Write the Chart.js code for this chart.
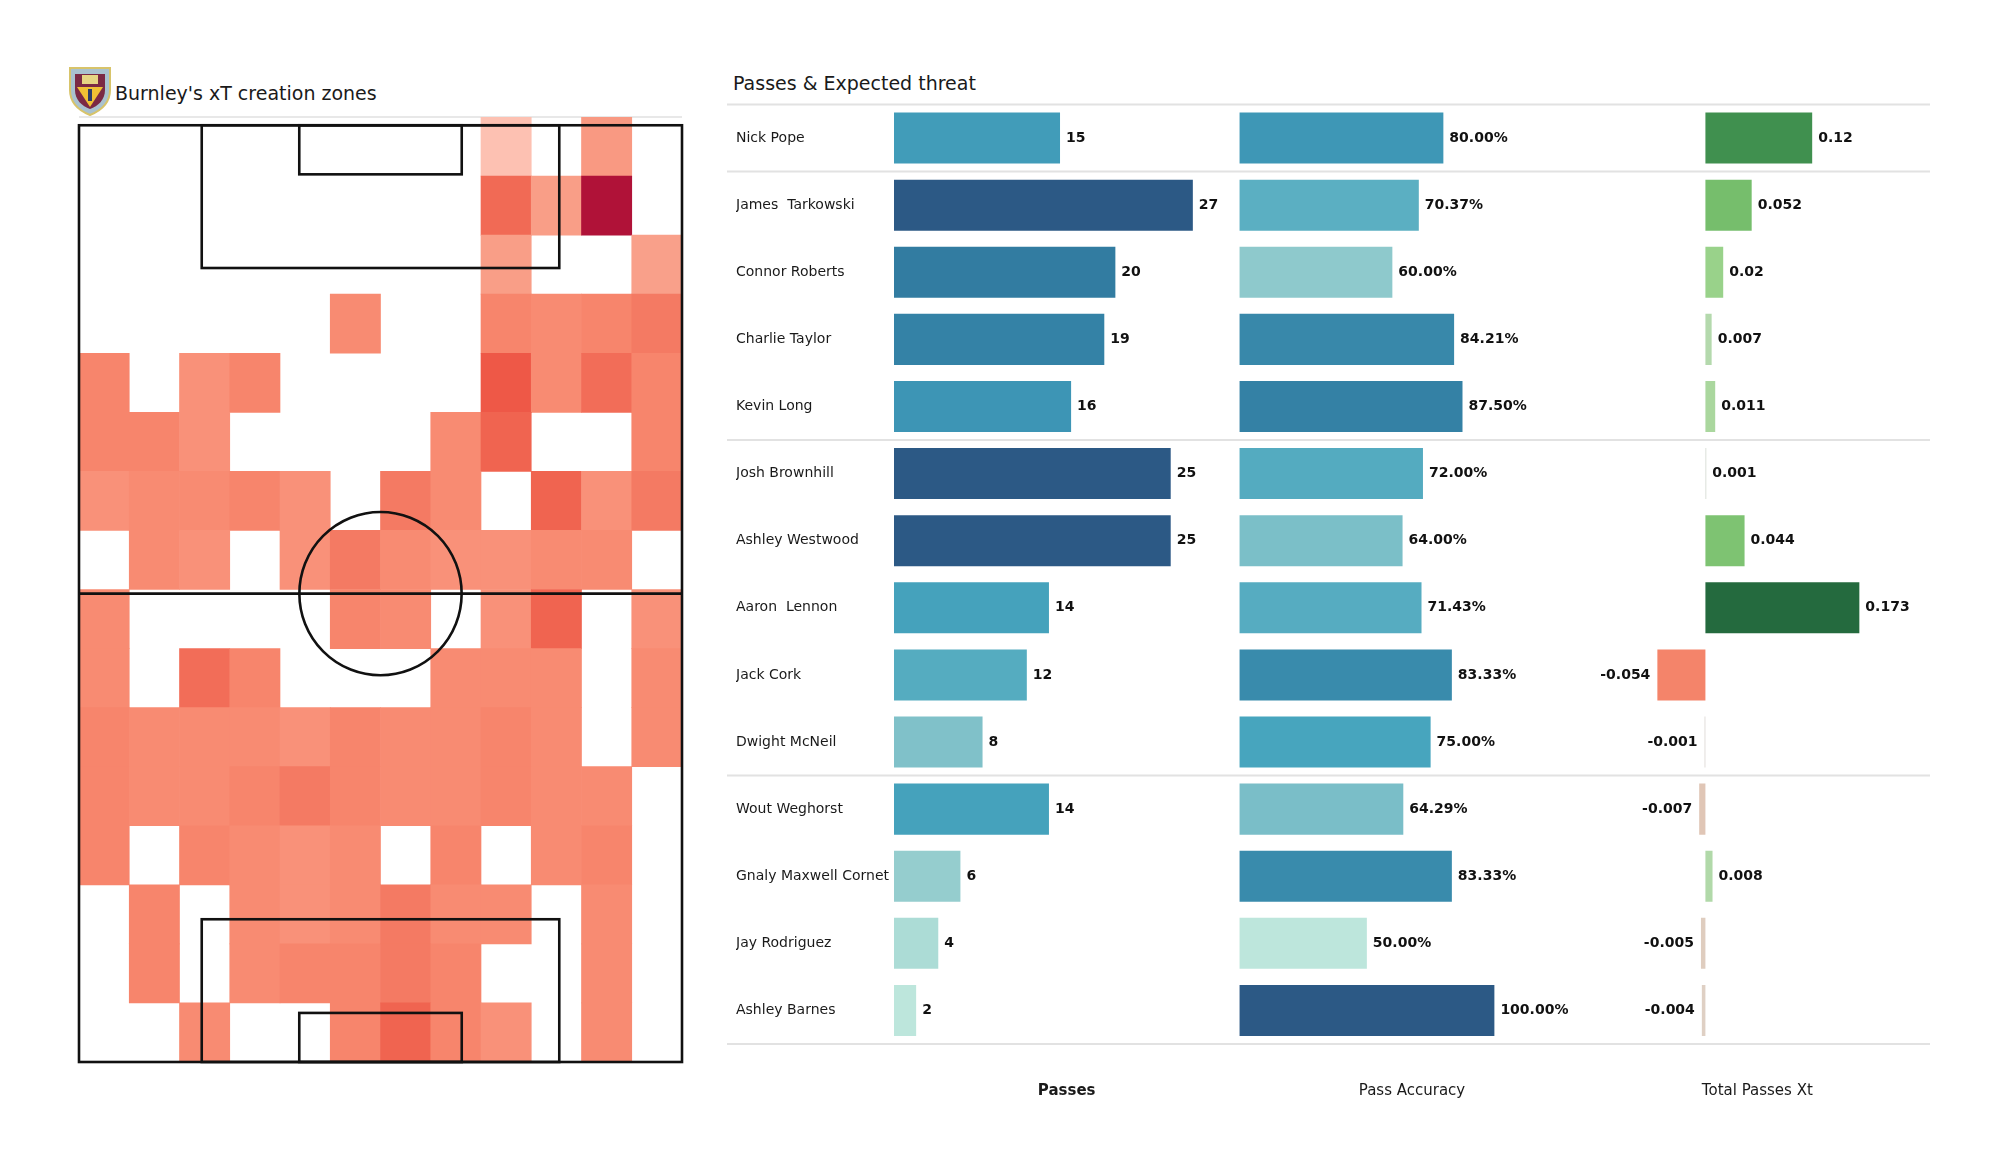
<!DOCTYPE html>
<html>
<head>
<meta charset="utf-8">
<script src="https://cdn.jsdelivr.net/npm/chart.js@4.4.1/dist/chart.umd.min.js"></script>
<style>
body{margin:0;background:#fff;width:2000px;height:1175px;position:relative;overflow:hidden;font-family:"DejaVu Sans",sans-serif;color:#1a1a1a}
.abs{position:absolute}
#logo{left:68px;top:66px}
#heatTitle{left:115px;top:81px;font-size:19px;line-height:24px;white-space:nowrap}
#heatRule{left:79px;top:116px;width:603px;height:2px;background:#e8e8e8}
#heatBox{left:60px;top:100px}
#tableTitle{left:733px;top:71px;font-size:19px;line-height:24px;white-space:nowrap}
#tableBox{left:727px;top:90px}
</style>
</head>
<body>
<svg id="logo" class="abs" width="44" height="50" viewBox="0 0 44 50">
  <path d="M2 2 H42 V24 C42 38 32 45 22 49 C12 45 2 38 2 24 Z" fill="#a9c2cf" stroke="#d8c46a" stroke-width="2"/>
  <path d="M7 8 H37 V24 C37 34 30 40 22 43 C14 40 7 34 7 24 Z" fill="#7b2a44"/>
  <path d="M9 21 L35 21 L22 41 Z" fill="#f0c234"/>
  <rect x="14" y="9" width="16" height="9" fill="#e6d683"/>
  <rect x="20" y="23" width="4" height="12" fill="#2d3f6b"/>
</svg>
<div id="heatTitle" class="abs">Burnley's xT creation zones</div>
<div id="heatRule" class="abs"></div>
<div id="heatBox" class="abs"><canvas id="heat" width="640" height="980"></canvas></div>
<div id="tableTitle" class="abs">Passes &amp; Expected threat</div>
<div id="tableBox" class="abs"><canvas id="table" width="1203" height="1020"></canvas></div>
<script>
// ---- data ----
const players = ['Nick Pope','James  Tarkowski','Connor Roberts','Charlie Taylor','Kevin Long',
  'Josh Brownhill','Ashley Westwood','Aaron  Lennon','Jack Cork','Dwight McNeil',
  'Wout Weghorst','Gnaly Maxwell Cornet','Jay Rodriguez','Ashley Barnes'];
const passes = [15,27,20,19,16,25,25,14,12,8,14,6,4,2];
const passAccuracy = [80.00,70.37,60.00,84.21,87.50,72.00,64.00,71.43,83.33,75.00,64.29,83.33,50.00,100.00];
const passesXt = [0.12,0.052,0.02,0.007,0.011,0.001,0.044,0.173,-0.054,-0.001,-0.007,0.008,-0.005,-0.004];
const groupStarts = [1,5,10]; // GK | defenders | midfielders | forwards

// xT creation grid, top row (attacking end) first, 12 columns across
const heatRows = [
  [0,0,0,0,0,0,0,0,0.11,0,0.21,0],
  [0,0,0,0,0,0,0,0,0.39,0.19,1.0,0],
  [0,0,0,0,0,0,0,0,0.19,0,0,0.18],
  [0,0,0,0,0,0.27,0,0,0.30,0.27,0.30,0.34],
  [0.30,0,0.24,0.30,0,0,0,0,0.45,0.27,0.38,0.30],
  [0.30,0.30,0.24,0,0,0,0,0.27,0.41,0,0,0.30],
  [0.24,0.27,0.27,0.30,0.24,0,0.34,0.27,0,0.41,0.24,0.34],
  [0,0.27,0.24,0,0.24,0.34,0.27,0.24,0.24,0.27,0.27,0],
  [0.27,0,0,0,0,0.30,0.27,0,0.24,0.41,0,0.24],
  [0.27,0,0.38,0.30,0,0,0,0.27,0.27,0.27,0,0.27],
  [0.30,0.27,0.27,0.27,0.24,0.30,0.27,0.27,0.30,0.27,0,0.27],
  [0.30,0.27,0.27,0.30,0.34,0.30,0.27,0.27,0.30,0.27,0.27,0],
  [0.30,0,0.30,0.27,0.24,0.27,0,0.30,0,0.27,0.30,0],
  [0,0.30,0,0.27,0.24,0.27,0.34,0.27,0.27,0,0.27,0],
  [0,0.30,0,0.27,0.30,0.30,0.34,0.30,0,0,0.27,0],
  [0,0,0.27,0,0,0.30,0.41,0.30,0.24,0,0.27,0]
];

// ---- colour ramps ----
function hex(h){return [1,3,5].map(i=>parseInt(h.slice(i,i+2),16))}
function mix(a,b,f){const pa=hex(a),pb=hex(b);return 'rgb('+pa.map((v,k)=>Math.round(v+(pb[k]-v)*f)).join(',')+')'}
function ramp(stops,t){
  if(t<=stops[0][0]) return stops[0][1];
  for(let i=1;i<stops.length;i++){
    if(t<=stops[i][0]){const [t0,c0]=stops[i-1],[t1,c1]=stops[i];return mix(c0,c1,(t-t0)/(t1-t0))}
  }
  return stops[stops.length-1][1];
}
const blues = [[0,'#bde6dc'],[0.10,'#a9dad5'],[0.20,'#8ec9cc'],[0.28,'#7bbfc8'],[0.42,'#58adc1'],
  [0.50,'#47a5be'],[0.60,'#3e97b6'],[0.68,'#3888aa'],[0.76,'#3380a4'],[0.88,'#306b93'],[1,'#2c5985']];
const greens = [[0,'#dcdcdc'],[0.04,'#b4d9ad'],[0.07,'#a7d79a'],[0.12,'#98d288'],[0.28,'#79c06e'],[0.70,'#3f8f4f'],[1,'#246a3e']];
const reds = [[0,'#dcdcdc'],[0.08,'#dfcfc2'],[0.13,'#e0c6b6'],[1,'#f4846a']];
const heatRamp = [[0.10,'#fdc6b8'],[0.18,'#f9a08a'],[0.24,'#f99179'],[0.27,'#f88b72'],[0.30,'#f7856c'],
  [0.34,'#f47a63'],[0.38,'#f26d58'],[0.41,'#f06450'],[0.45,'#ee5847'],[0.70,'#d0303f'],[1,'#b01238']];

const clamp01 = t => Math.max(0, Math.min(1, t));
const passColor = v => ramp(blues, clamp01((v - 2) / 23));
const accColor = v => ramp(blues, clamp01((v - 50) / 50));
const xtColor = v => v >= 0 ? ramp(greens, v / 0.173) : ramp(reds, -v / 0.054);
const heatColor = v => v > 0 ? ramp(heatRamp, v) : 'rgba(0,0,0,0)';

const FONT = '"DejaVu Sans", sans-serif';

// ---- heat map pitch ----
const COLS = 12, ROWS = 16;
const PITCH_W = 68, PITCH_L = 105, PITCH_TOP = 15.86;
const BOX_W = 40.32, BOX_D = 16.0, SIX_W = 18.32, SIX_D = 5.5, CIRCLE_R = 9.15;

const pitchLines = {
  id: 'pitchLines',
  afterDatasetsDraw(chart) {
    const {ctx, scales: {x, y}} = chart;
    const px = m => x.getPixelForValue(m * COLS / PITCH_W);
    const py = m => y.getPixelForValue(m * PITCH_TOP / PITCH_L);
    const rect = (x0, y0, x1, y1) => ctx.strokeRect(px(x0), py(y1), px(x1) - px(x0), py(y0) - py(y1));
    ctx.save();
    ctx.strokeStyle = '#111';
    ctx.lineWidth = 2.6;
    rect(0, 0, PITCH_W, PITCH_L);
    ctx.beginPath(); ctx.moveTo(px(0), py(PITCH_L / 2)); ctx.lineTo(px(PITCH_W), py(PITCH_L / 2)); ctx.stroke();
    rect((PITCH_W - BOX_W) / 2, 0, (PITCH_W + BOX_W) / 2, BOX_D);
    rect((PITCH_W - BOX_W) / 2, PITCH_L - BOX_D, (PITCH_W + BOX_W) / 2, PITCH_L);
    rect((PITCH_W - SIX_W) / 2, 0, (PITCH_W + SIX_W) / 2, SIX_D);
    rect((PITCH_W - SIX_W) / 2, PITCH_L - SIX_D, (PITCH_W + SIX_W) / 2, PITCH_L);
    const cx = px(PITCH_W / 2), cy = py(PITCH_L / 2);
    ctx.beginPath();
    ctx.ellipse(cx, cy, px(PITCH_W / 2 + CIRCLE_R) - cx, cy - py(PITCH_L / 2 + CIRCLE_R), 0, 0, Math.PI * 2);
    ctx.stroke();
    ctx.restore();
  }
};

const heatSets = heatRows.slice().reverse().map((row, r) => ({
  label: 'row ' + r,
  data: row.map((v, c) => ({x: c + 0.5, y: 1})),
  backgroundColor: row.map(heatColor),
  borderWidth: 0
}));

new Chart(document.getElementById('heat'), {
  type: 'bar',
  data: {datasets: heatSets},
  options: {
    responsive: false, devicePixelRatio: 1, animation: false,
    layout: {padding: {left: 19, top: 17, right: 18, bottom: 18}},
    barPercentage: 1, categoryPercentage: 1,
    plugins: {legend: {display: false}, tooltip: {enabled: false}},
    scales: {
      x: {type: 'linear', min: 0, max: COLS, offset: false, stacked: true, display: false},
      y: {type: 'linear', min: 0, max: ROWS, stacked: true, display: false}
    }
  },
  plugins: [pitchLines]
});

// ---- table of bars ----
const fmtPass = v => String(v);
const fmtAcc = v => v.toFixed(2) + '%';
const fmtXt = v => String(v);
const formats = [fmtPass, fmtAcc, fmtXt];

const separators = {
  id: 'separators',
  beforeDatasetsDraw(chart) {
    const {ctx, scales: {y}} = chart;
    const step = y.getPixelForValue(1) - y.getPixelForValue(0);
    const ys = [y.getPixelForValue(0) - step / 2, y.getPixelForValue(players.length - 1) + step / 2]
      .concat(groupStarts.map(i => y.getPixelForValue(i) - step / 2));
    ctx.save();
    ctx.strokeStyle = '#e2e2e2';
    ctx.lineWidth = 2;
    ys.forEach(yy => { ctx.beginPath(); ctx.moveTo(0, yy); ctx.lineTo(chart.width, yy); ctx.stroke(); });
    ctx.restore();
  }
};

const valueLabels = {
  id: 'valueLabels',
  afterDatasetsDraw(chart) {
    const ctx = chart.ctx;
    ctx.save();
    ctx.font = 'bold 14px ' + FONT;
    ctx.fillStyle = '#111';
    ctx.textBaseline = 'middle';
    chart.data.datasets.forEach((ds, di) => {
      chart.getDatasetMeta(di).data.forEach((bar, i) => {
        const v = ds.data[i], txt = formats[di](v);
        if (v < 0) { ctx.textAlign = 'right'; ctx.fillText(txt, Math.min(bar.x, bar.base) - 7, bar.y); }
        else { ctx.textAlign = 'left'; ctx.fillText(txt, Math.max(bar.x, bar.base) + 6, bar.y); }
      });
    });
    ctx.restore();
  }
};

const colAxis = (min, max, text, bold) => ({
  type: 'linear', position: 'bottom', stack: 'cols', stackWeight: 1, min, max,
  ticks: {display: false}, grid: {display: false, drawTicks: false}, border: {display: false},
  title: {display: true, text, color: '#1a1a1a', font: {family: FONT, size: 15, weight: bold ? 'bold' : 'normal'},
    padding: {top: 38.5, bottom: 0}}
});

new Chart(document.getElementById('table'), {
  type: 'bar',
  data: {
    labels: players,
    datasets: [
      {label: 'Passes', data: passes, xAxisID: 'xP', backgroundColor: passes.map(passColor)},
      {label: 'Pass Accuracy', data: passAccuracy, xAxisID: 'xA', backgroundColor: passAccuracy.map(accColor)},
      {label: 'Total Passes Xt', data: passesXt, xAxisID: 'xT', backgroundColor: passesXt.map(xtColor)}
    ]
  },
  options: {
    indexAxis: 'y', responsive: false, devicePixelRatio: 1, animation: false,
    layout: {padding: {left: 9, top: 14.5, right: 0, bottom: 9.5}},
    datasets: {bar: {grouped: false, barPercentage: 0.76, categoryPercentage: 1, borderWidth: 0}},
    plugins: {legend: {display: false}, tooltip: {enabled: false}},
    scales: {
      y: {
        type: 'category', position: 'left',
        grid: {display: false, drawTicks: false}, border: {display: false},
        ticks: {crossAlign: 'far', color: '#1a1a1a', font: {family: FONT, size: 14}},
        afterFit(scale) { scale.width = 158; }
      },
      xP: colAxis(0, 31.2, 'Passes', true),
      xA: colAxis(0, 135.4, 'Pass Accuracy', false),
      xT: colAxis(-0.1357, 0.2524, 'Total Passes Xt', false)
    }
  },
  plugins: [separators, valueLabels]
});
</script>
</body>
</html>
